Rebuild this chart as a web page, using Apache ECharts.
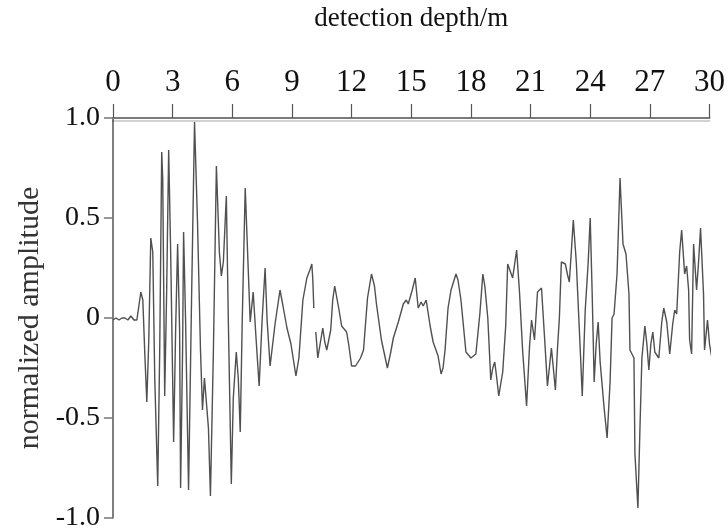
<!DOCTYPE html>
<html>
<head>
<meta charset="utf-8">
<script src="https://cdn.jsdelivr.net/npm/echarts@6/dist/echarts.min.js"></script>
<style>
  html, body { margin: 0; padding: 0; background: #fff; }
  #box { width: 728px; height: 532px; }
</style>
</head>
<body>
<div id="box"></div>
<script>
// 深度 (m)
var depth = [
    0.00, 0.15, 0.30, 0.45, 0.60, 0.75, 0.90, 1.05, 1.20, 1.40,
    1.50, 1.60, 1.70, 1.80, 1.90, 2.00, 2.10, 2.25, 2.35, 2.45,
    2.50, 2.60, 2.70, 2.80, 2.90, 3.05, 3.15, 3.25, 3.35, 3.40,
    3.50, 3.55, 3.65, 3.80, 3.95, 4.10, 4.25, 4.40, 4.50, 4.60,
    4.70, 4.80, 4.90, 5.05, 5.20, 5.35, 5.45, 5.55, 5.70, 5.80,
    5.95, 6.05, 6.20, 6.30, 6.40, 6.50, 6.65, 6.75, 6.90, 7.05,
    7.20, 7.35, 7.50, 7.65, 7.75, 7.90, 8.15, 8.40, 8.55, 8.75,
    8.95, 9.20, 9.35, 9.55, 9.75, 9.90, 10.00, 10.05, 10.10, 10.15,
    10.20, 10.30, 10.45, 10.55, 10.65, 10.75, 10.95, 11.05, 11.15, 11.35,
    11.50, 11.75, 11.85, 12.00, 12.20, 12.45, 12.60, 12.80, 13.00, 13.15,
    13.25, 13.50, 13.80, 13.95, 14.10, 14.35, 14.60, 14.75, 14.85, 15.05,
    15.20, 15.35, 15.50, 15.60, 15.75, 15.95, 16.10, 16.35, 16.50, 16.60,
    16.70, 16.85, 17.00, 17.25, 17.35, 17.50, 17.75, 18.00, 18.25, 18.45,
    18.60, 18.70, 18.85, 19.00, 19.10, 19.20, 19.30, 19.40, 19.60, 19.75,
    19.85, 19.95, 20.10, 20.20, 20.30, 20.45, 20.60, 20.80, 20.95, 21.05,
    21.20, 21.35, 21.55, 21.70, 21.85, 22.05, 22.25, 22.35, 22.45, 22.55,
    22.75, 22.85, 22.95, 23.05, 23.15, 23.30, 23.50, 23.60, 23.75, 23.90,
    24.00, 24.10, 24.20, 24.30, 24.40, 24.50, 24.70, 24.85, 25.00, 25.10,
    25.20, 25.35, 25.50, 25.65, 25.80, 25.95, 26.00, 26.20, 26.25, 26.40,
    26.50, 26.60, 26.75, 26.85, 26.95, 27.05, 27.15, 27.25, 27.45, 27.60,
    27.70, 27.85, 28.00, 28.15, 28.25, 28.35, 28.50, 28.60, 28.75, 28.85,
    28.95, 29.00, 29.10, 29.20, 29.35, 29.45, 29.55, 29.70, 29.75, 29.90,
    30.00, 30.10, 30.20, 30.30
];

// 归一化振幅 (null = 断开)
var amplitude = [
    -0.01, 0.00, -0.01, 0.00, 0.00, -0.01, 0.01, -0.01, -0.01, 0.13,
    0.09, -0.18, -0.42, -0.11, 0.40, 0.33, -0.30, -0.84, -0.16, 0.83,
    0.70, -0.39, 0.14, 0.84, 0.33, -0.62, -0.06, 0.37, -0.06, -0.85,
    -0.16, 0.43, -0.01, -0.86, 0.09, 0.98, 0.48, -0.16, -0.46, -0.30,
    -0.29, -0.55, -0.89, -0.16, 0.76, 0.33, 0.21, 0.28, 0.61, -0.01,
    -0.83, -0.40, -0.17, -0.30, -0.57, -0.01, 0.65, 0.38, -0.02, 0.13,
    -0.11, -0.34, -0.01, 0.25, -0.01, -0.24, -0.03, 0.14, 0.06, -0.05,
    -0.13, -0.29, -0.20, 0.09, 0.20, 0.24, 0.27, 0.19, 0.05, null,
    -0.07, -0.20, -0.11, -0.05, -0.12, -0.16, -0.06, 0.09, 0.16, 0.05,
    -0.04, -0.07, -0.13, -0.24, -0.24, -0.20, -0.16, 0.10, 0.22, 0.16,
    0.07, -0.11, -0.25, -0.18, -0.10, -0.02, 0.07, 0.09, 0.07, 0.14,
    0.20, 0.05, 0.08, 0.06, 0.09, -0.04, -0.12, -0.19, -0.28, -0.25,
    -0.16, 0.05, 0.14, 0.22, 0.19, 0.09, -0.17, -0.20, -0.18, 0.02,
    0.22, 0.16, 0.00, -0.31, -0.25, -0.22, -0.30, -0.39, -0.27, -0.04,
    0.27, 0.28, 0.20, 0.27, 0.34, 0.12, -0.16, -0.44, -0.14, -0.01,
    -0.11, 0.13, 0.15, -0.09, -0.34, -0.15, -0.36, -0.16, 0.00, 0.28,
    0.27, 0.22, 0.18, 0.33, 0.49, 0.28, -0.16, -0.39, 0.04, 0.28,
    0.50, 0.12, -0.32, -0.13, -0.02, -0.22, -0.45, -0.60, -0.32, 0.00,
    0.02, 0.22, 0.70, 0.37, 0.32, 0.12, -0.16, -0.20, -0.68, -0.95,
    -0.56, -0.20, -0.04, -0.13, -0.26, -0.13, -0.07, -0.17, -0.20, -0.02,
    0.05, -0.02, -0.18, -0.03, 0.04, 0.02, 0.33, 0.44, 0.22, 0.26,
    0.14, -0.11, -0.18, 0.37, 0.14, 0.28, 0.45, 0.12, -0.16, -0.01,
    -0.13, -0.19, -0.13, -0.24
];

// 坐标轴刻度
var yTickLabels = { '1': '1.0', '0.5': '0.5', '0': '0', '-0.5': '-0.5', '-1': '-1.0' };

var seriesData = depth.map(function (d, i) {
    return [d, amplitude[i] === null ? '-' : amplitude[i]];
});

var myChart = echarts.init(document.getElementById('box'));
var serif = 'Liberation Serif';
var option = {
    backgroundColor: '#fff',
    animation: false,
    grid: {
        left: 113,
        right: 15,
        top: 112,
        bottom: 10
    },
    xAxis: {
        type: 'value',
        position: 'top',
        min: 0,
        max: 30,
        interval: 3,
        name: 'detection depth/m',
        nameLocation: 'middle',
        nameGap: 86,
        nameTextStyle: { fontFamily: serif, fontSize: 27, color: '#111' },
        axisLine: {
            onZero: false,
            lineStyle: { color: '#7a7a7a', width: 2, shadowColor: 'rgba(0,0,0,0.18)', shadowOffsetY: 3 }
        },
        axisTick: { inside: false, length: 14, lineStyle: { color: '#555', width: 1.2 } },
        axisLabel: { fontFamily: serif, fontSize: 31, color: '#111', margin: 20 },
        splitLine: { show: false }
    },
    yAxis: {
        type: 'value',
        min: -1,
        max: 1,
        interval: 0.5,
        name: 'normalized amplitude',
        nameLocation: 'middle',
        nameGap: 66,
        nameRotate: 90,
        nameTextStyle: { fontFamily: serif, fontSize: 30, color: '#333' },
        axisLine: { show: true, onZero: false, lineStyle: { color: '#555', width: 1.5 } },
        axisTick: { show: true, length: 9, lineStyle: { color: '#777', width: 1.5 } },
        axisLabel: {
            fontFamily: serif, fontSize: 28, color: '#111', margin: 13,
            formatter: function (v) { return yTickLabels[String(v)] || v; }
        },
        splitLine: { show: false }
    },
    series: [{
        type: 'line',
        data: seriesData,
        showSymbol: false,
        clip: false,
        connectNulls: false,
        lineStyle: { color: '#505050', width: 1.4 }
    }]
};
myChart.setOption(option);
</script>
</body>
</html>
